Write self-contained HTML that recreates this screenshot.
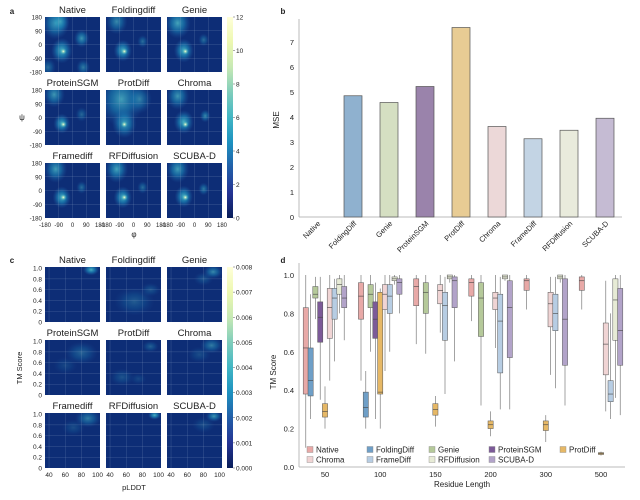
<!DOCTYPE html>
<html><head><meta charset="utf-8"><style>
body{margin:0;background:#fff}
svg{display:block;font-family:"Liberation Sans",sans-serif}
</style></head><body>
<svg id="fig" width="640" height="500" viewBox="0 0 640 500">
<defs>
<linearGradient id="ylgnbu" x1="0" y1="1" x2="0" y2="0">
<stop offset="0" stop-color="#081d58"/><stop offset="0.125" stop-color="#253494"/><stop offset="0.25" stop-color="#225ea8"/><stop offset="0.375" stop-color="#1d91c0"/><stop offset="0.5" stop-color="#41b6c4"/><stop offset="0.625" stop-color="#7fcdbb"/><stop offset="0.75" stop-color="#c7e9b4"/><stop offset="0.875" stop-color="#edf8b1"/><stop offset="1" stop-color="#ffffd9"/>
</linearGradient>
<radialGradient id="blob"><stop offset="0" stop-color="#4fb9c6" stop-opacity="0.95"/><stop offset="0.5" stop-color="#1d91c0" stop-opacity="0.6"/><stop offset="1" stop-color="#225ea8" stop-opacity="0"/></radialGradient>
<radialGradient id="hot"><stop offset="0" stop-color="#ffffd9"/><stop offset="0.4" stop-color="#7fcdbb" stop-opacity="0.8"/><stop offset="1" stop-color="#1d91c0" stop-opacity="0"/></radialGradient>
</defs>
<g id="root"></g>
</svg>
<script>
// ---------- Panel b data ----------
const mseCategories = ["Native","FoldingDiff","Genie","ProteinSGM","ProtDiff","Chroma","FrameDiff","RFDiffusion","SCUBA-D"];
const mseValues = [0, 4.85, 4.58, 5.22, 7.58, 3.62, 3.13, 3.47, 3.95];
const mseTicks = [0,1,2,3,4,5,6,7];
const methodColors = ["#e8b0ae","#8fb1cf","#d5dfc2","#9a83ab","#e8cc94","#ecd8d8","#c3d4e4","#e9ebdc","#c5bbd3"];

// ---------- Panel d data ----------
const lengths = ["50","100","150","200","300","500"];
const boxMethods = ["Native","FoldingDiff","Genie","ProteinSGM","ProtDiff","Chroma","FrameDiff","RFDiffusion","SCUBA-D"];
const boxColors = ["#e8a9a7","#6f9fc7","#b5c99a","#7c5a98","#e6b866","#f0d4d4","#b7cde3","#e7ebd6","#b2a3c9"];
// each entry: [lowWhisker, q1, median, q3, highWhisker] or null
const box50 = [[0.1,0.38,0.62,0.83,1.0],[0.25,0.37,0.45,0.62,0.9],[0.77,0.88,0.9,0.94,0.99],[0.35,0.65,0.78,0.86,0.99],[0.2,0.26,0.29,0.33,0.42],[0.45,0.67,0.83,0.93,1.0],[0.55,0.77,0.88,0.93,0.98],[0.8,0.9,0.95,0.98,1.0],[0.66,0.83,0.88,0.94,1.0]];
const box100 = [[0.45,0.77,0.89,0.96,1.0],[0.2,0.26,0.31,0.39,0.5],[0.6,0.83,0.9,0.95,1.0],[0.25,0.67,0.77,0.86,0.96],[0.2,0.38,0.39,0.91,0.93],[0.5,0.82,0.9,0.95,1.0],[0.6,0.8,0.89,0.95,1.0],[0.95,0.97,0.98,0.99,1.0],[0.8,0.9,0.96,0.98,1.0]];
const box150 = [[0.64,0.84,0.94,0.98,1.0],null,[0.59,0.8,0.91,0.96,1.0],null,[0.21,0.27,0.3,0.33,0.37],[0.7,0.85,0.92,0.95,1.0],[0.38,0.66,0.84,0.91,0.99],[0.96,0.98,0.99,1.0,1.0],[0.55,0.83,0.97,0.99,1.0]];
const box200 = [[0.76,0.89,0.96,0.98,1.0],null,[0.32,0.68,0.88,0.96,1.0],null,[0.16,0.2,0.22,0.24,0.29],[0.62,0.82,0.88,0.91,1.0],[0.3,0.49,0.76,0.9,0.99],[0.97,0.98,0.99,1.0,1.0],[0.3,0.57,0.83,0.97,1.0]];
const box300 = [[0.82,0.92,0.97,0.98,1.0],null,null,null,[0.13,0.19,0.22,0.24,0.27],[0.48,0.73,0.85,0.91,0.99],[0.41,0.71,0.8,0.9,0.99],[0.96,0.98,0.99,1.0,1.0],[0.32,0.53,0.77,0.98,1.0]];
const box500 = [[0.82,0.92,0.97,0.99,1.0],null,null,null,[0.06,0.065,0.07,0.075,0.08],[0.29,0.48,0.64,0.75,0.97],[0.25,0.34,0.38,0.45,0.8],[0.36,0.66,0.87,0.98,1.0],[0.27,0.53,0.71,0.93,1.0]];
const tmTicks = [0.0,0.2,0.4,0.6,0.8,1.0];

// ---------- Panel a / c heatmap blob data ----------
const ramaTitles = ["Native","Foldingdiff","Genie","ProteinSGM","ProtDiff","Chroma","Framediff","RFDiffusion","SCUBA-D"];
// blobs: [phi, psi, radius(deg), strength]
const ramaBlobs = [
 [[-110,140,90,0.9],[-70,-40,70,1],[60,40,50,0.8],[70,-150,45,0.6],[-80,150,60,0.7],[-160,-150,50,0.5]],
 [[-110,150,70,0.7],[-70,-40,60,1],[60,20,35,0.5]],
 [[-110,140,85,0.9],[-70,-40,65,1],[60,30,35,0.5]],
 [[-120,150,70,0.8],[-70,-40,55,1],[60,20,40,0.45]],
 [[-80,120,150,0.85],[-60,-40,80,0.9],[40,120,80,0.6]],
 [[-110,140,75,0.8],[-70,-30,65,1],[70,10,35,0.7]],
 [[-110,140,75,0.85],[-70,-45,60,1],[60,20,35,0.5]],
 [[-110,140,75,0.9],[-70,-45,60,1],[60,20,35,0.5]],
 [[-110,140,75,0.85],[-70,-40,60,1],[60,10,35,0.6]]
];
const ramaHot = [-60,-45];
const plddtBlobs = [
 [[92,0.97,10,1]],
 [[70,0.38,25,0.35],[90,0.6,12,0.3]],
 [[92,0.93,12,0.7],[80,0.8,12,0.3]],
 [[80,0.78,20,0.4],[60,0.55,15,0.2]],
 [[90,0.9,10,0.4],[55,0.33,15,0.3],[75,0.3,10,0.2]],
 [[90,0.92,14,0.6],[75,0.75,14,0.25]],
 [[88,0.92,16,0.6],[70,0.75,14,0.25]],
 [[95,0.98,8,1]],
 [[93,0.96,10,0.8],[80,0.8,14,0.25]]
];
const plddtTicks = [40,60,80,100];
const tmYTicks = [0,0.2,0.4,0.6,0.8,1.0];
const ramaTicks = [-180,-90,0,90,180];
const cbA = [0,2,4,6,8,10,12];
const cbC = ["0.000","0.001","0.002","0.003","0.004","0.005","0.006","0.007","0.008"];

const NS="http://www.w3.org/2000/svg";
const root=document.getElementById('root');
function el(tag,attrs,parent,txt){const e=document.createElementNS(NS,tag);for(const k in attrs)e.setAttribute(k,attrs[k]);if(txt!==undefined)e.textContent=txt;(parent||root).appendChild(e);return e;}
function txt(x,y,s,size,anchor,parent,extra){const t=el('text',Object.assign({x:x,y:y,'font-size':size,'text-anchor':anchor||'middle',fill:'#222'},extra||{}),parent,s);return t;}

const colX=[45,106,167], W=55;

// ===== Panel a =====
const ga=el('g',{});
txt(12,14,'a',8,'middle',ga,{'font-weight':'bold'});
const rowYa=[17,90,163];
for(let i=0;i<9;i++){
 const x0=colX[i%3],y0=rowYa[Math.floor(i/3)];
 const g=el('g',{},ga);
 el('rect',{x:x0,y:y0,width:W,height:W,fill:'#0d2d76'},g);
 const sx=v=>x0+(v+180)/360*W, sy=v=>y0+(180-v)/360*W;
 const cp=el('clipPath',{id:'ca'+i},g);el('rect',{x:x0,y:y0,width:W,height:W},cp);
 const bg=el('g',{'clip-path':'url(#ca'+i+')'},g);
 ramaBlobs[i].forEach(b=>{const r=b[2]/360*W;const c=el('ellipse',{cx:sx(b[0]),cy:sy(b[1]),rx:r,ry:r*1.2,fill:'url(#blob)',opacity:b[3]},bg);});
 el('circle',{cx:sx(ramaHot[0]),cy:sy(ramaHot[1]),r:3.5,fill:'url(#hot)'},bg);
 ramaTicks.slice(1,4).forEach(v=>{el('line',{x1:sx(v),x2:sx(v),y1:y0,y2:y0+W,stroke:'#8fa6c8','stroke-width':0.3,opacity:0.6},g);el('line',{y1:sy(v),y2:sy(v),x1:x0,x2:x0+W,stroke:'#8fa6c8','stroke-width':0.3,opacity:0.6},g);});
 txt(x0+W/2,y0-4,ramaTitles[i],9.5,'middle',g);
 if(i%3===0) ramaTicks.forEach(v=>txt(x0-3,sy(v)+2.5,String(v),6.2,'end',g));
 if(i>=6) ramaTicks.forEach(v=>txt(sx(v),y0+W+9,String(v),6,'middle',g));
}
txt(22,120,'ψ',8,'middle',ga);txt(134,237,'φ',8,'middle',ga);
el('rect',{x:227,y:17,width:6,height:201,fill:'url(#ylgnbu)'},ga);
cbA.forEach(v=>{const y=218-v/12*201;el('line',{x1:233,x2:235,y1:y,y2:y,stroke:'#555','stroke-width':0.5},ga);txt(236,y+2.5,String(v),6.5,'start',ga);});

// ===== Panel c =====
const gc=el('g',{});
txt(12,263,'c',8,'middle',gc,{'font-weight':'bold'});
const rowYc=[267,340,413];
for(let i=0;i<9;i++){
 const x0=colX[i%3],y0=rowYc[Math.floor(i/3)];
 const g=el('g',{},gc);
 el('rect',{x:x0,y:y0,width:W,height:W,fill:'#0d2d76'},g);
 const sx=v=>x0+(v-35)/68*W, sy=v=>y0+W-(v/1.02)*W;
 const cp=el('clipPath',{id:'cc'+i},g);el('rect',{x:x0,y:y0,width:W,height:W},cp);
 const bg=el('g',{'clip-path':'url(#cc'+i+')'},g);
 plddtBlobs[i].forEach(b=>{const rx=b[2]/68*W,ry=b[2]/68*W*0.7;const c=el('ellipse',{cx:sx(b[0]),cy:sy(b[1]),rx:rx,ry:ry,fill:'url(#blob)',opacity:b[3]},bg);});
 plddtTicks.slice(0,3).forEach(v=>el('line',{x1:sx(v),x2:sx(v),y1:y0,y2:y0+W,stroke:'#8fa6c8','stroke-width':0.3,opacity:0.6},g));
 tmYTicks.slice(1,5).forEach(v=>el('line',{y1:sy(v),y2:sy(v),x1:x0,x2:x0+W,stroke:'#8fa6c8','stroke-width':0.3,opacity:0.6},g));
 txt(x0+W/2,y0-4,ramaTitles[i],9.5,'middle',g);
 if(i%3===0) tmYTicks.forEach(v=>txt(x0-3,sy(v)+2.5,v===0?'0':v.toFixed(1),6.5,'end',g));
 if(i>=6) plddtTicks.forEach(v=>txt(sx(v),y0+W+9,String(v),6.5,'middle',g));
}
txt(22,368,'TM Score',7.5,'middle',gc,{transform:'rotate(-90 22 368)'});
txt(134,490,'pLDDT',7.5,'middle',gc);
el('rect',{x:227,y:267,width:6,height:201,fill:'url(#ylgnbu)'},gc);
cbC.forEach((v,k)=>{const y=468-k/8*201;el('line',{x1:233,x2:235,y1:y,y2:y,stroke:'#555','stroke-width':0.5},gc);txt(236,y+2.5,v,6.5,'start',gc);});

// ===== Panel b =====
const gb=el('g',{});
txt(283,14,'b',8,'middle',gb,{'font-weight':'bold'});
const bx=i=>317+i*36, by=v=>217-v*25;
el('line',{x1:299,x2:299,y1:19,y2:217,stroke:'#bbb','stroke-width':1},gb);
el('line',{x1:299,x2:622,y1:217,y2:217,stroke:'#bbb','stroke-width':1},gb);
mseTicks.forEach(v=>txt(294,by(v)+3,String(v),7.5,'end',gb));
txt(279,120,'MSE',8,'middle',gb,{transform:'rotate(-90 279 120)'});
mseValues.forEach((v,i)=>{
 const r=el('rect',{x:bx(i)-9,y:by(v),width:18,height:217-by(v),fill:methodColors[i],stroke:'#555','stroke-width':0.7},gb);
 
 
 txt(bx(i)+4,224,mseCategories[i],7.5,'end',gb,{transform:'rotate(-45 '+(bx(i)+4)+' 224)'});
});

// ===== Panel d =====
const gd=el('g',{});
txt(283,263,'d',8,'middle',gd,{'font-weight':'bold'});
const dy=v=>467-v*192;
const gx=i=>325+i*55.2;
el('line',{x1:299,x2:299,y1:263,y2:467,stroke:'#bbb','stroke-width':1},gd);
el('line',{x1:299,x2:625,y1:467,y2:467,stroke:'#bbb','stroke-width':1},gd);
tmTicks.forEach(v=>txt(294,dy(v)+3,v.toFixed(1),7.5,'end',gd));
txt(276,372,'TM Score',8,'middle',gd,{transform:'rotate(-90 276 372)'});
txt(462,487,'Residue Length',8,'middle',gd);
const allBoxes=[box50,box100,box150,box200,box300,box500];
allBoxes.forEach((grp,gi)=>{
 txt(gx(gi),477,lengths[gi],7.5,'middle',gd);
 grp.forEach((b,m)=>{
  if(!b)return;
  const cx=gx(gi)+(m-4)*4.8,w=5.2;
  const g=el('g',{},gd);
  
  
  el('line',{x1:cx,x2:cx,y1:dy(b[0]),y2:dy(b[4]),stroke:'#666','stroke-width':0.6},g);
  el('rect',{x:cx-w/2,y:dy(b[3]),width:w,height:Math.max(0.8,dy(b[1])-dy(b[3])),fill:boxColors[m],stroke:'#555','stroke-width':0.5},g);
  el('line',{x1:cx-w/2,x2:cx+w/2,y1:dy(b[2]),y2:dy(b[2]),stroke:'#444','stroke-width':0.6},g);
 });
});
const legendRows=[[0,1,2,3,4],[5,6,7,8]];
const legX=[310,370,432,492,563];
legendRows.forEach((row,r)=>row.forEach((m,k)=>{
 const g=el('g',{},gd);
 const y=r?460:450;
 el('rect',{x:legX[k]-3,y:y-3.5,width:6,height:6,fill:boxColors[m],stroke:'#888','stroke-width':0.4},g);
 txt(legX[k]+6,y+2.5,boxMethods[m],8,'start',g);
}));
</script>
</body></html>
